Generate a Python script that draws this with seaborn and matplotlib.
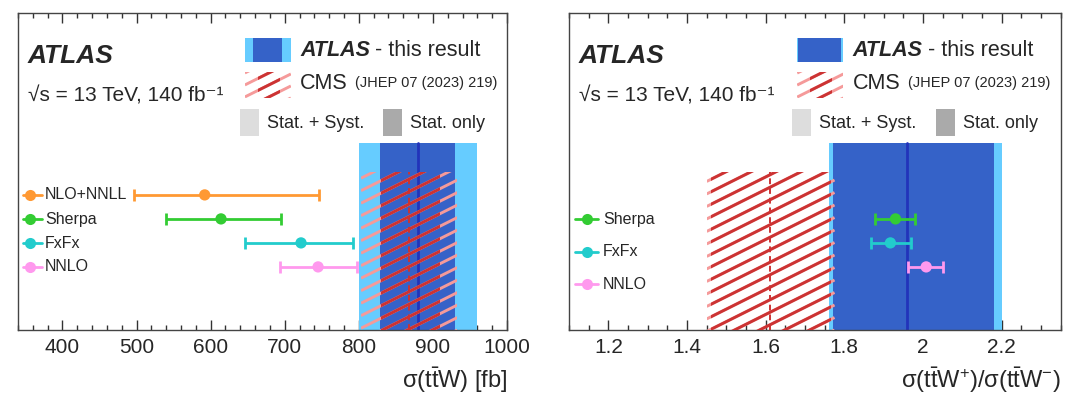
import matplotlib

matplotlib.use("Agg")
import matplotlib.pyplot as plt
import numpy as np
import pandas as pd
import seaborn as sns
from matplotlib.collections import LineCollection
from matplotlib.patches import Rectangle
from matplotlib.ticker import FuncFormatter, MultipleLocator

# left panel: sigma(ttW) [fb]
xsec_models = ["NLO+NNLL", "Sherpa", "FxFx", "NNLO"]
xsec_rows = [4, 3, 2, 1]
xsec_central = [592, 614, 722, 745]
xsec_low = [497, 540, 646, 694]
xsec_high = [746, 695, 792, 797]
xsec_atlas = 880
xsec_atlas_tot = (800, 960)
xsec_atlas_stat = (829, 930)
xsec_cms = 868
xsec_cms_tot = (803, 933)
xsec_cms_stat = (830, 910)

# right panel: sigma(ttW+)/sigma(ttW-)
ratio_models = ["Sherpa", "FxFx", "NNLO"]
ratio_rows = [3, 2, 1]
ratio_central = [1.930, 1.917, 2.008]
ratio_low = [1.878, 1.868, 1.963]
ratio_high = [1.980, 1.970, 2.050]
ratio_atlas = 1.96
ratio_atlas_tot = (1.76, 2.20)
ratio_atlas_stat = (1.77, 2.18)
ratio_cms = 1.61
ratio_cms_tot = (1.45, 1.775)
ratio_cms_stat = (1.46, 1.765)

model_colors = {"NLO+NNLL": "#ff9933", "Sherpa": "#33cc33", "FxFx": "#22cccc", "NNLO": "#ff99ee"}
LIGHT_BLUE = "#66ccff"
DARK_BLUE = "#3562c8"
PINK = "#f59a9a"
DARK_RED = "#cc3333"

sns.set_theme(style="ticks")
plt.rcParams["font.family"] = ["Liberation Sans", "DejaVu Sans"]
plt.rcParams["mathtext.fontset"] = "custom"
plt.rcParams["mathtext.rm"] = "Liberation Sans"
plt.rcParams["mathtext.it"] = "Liberation Sans:italic"
plt.rcParams["mathtext.bf"] = "Liberation Sans:bold"

YLIM = (-1.63, 11.58)
BAND_TOP = 0.59
CMS_TOP = 0.50


def hatch(ax, transform, xs, ys, lo, hi, slo, shi, ybot, ytop, gap_px=12.5, lw=2.1, slope_px=0.5):
    slope = slope_px * xs / ys
    gap = gap_px / ys
    rise = slope * (hi - lo)
    offsets = np.arange(ybot - rise - gap, ytop + gap, gap)
    segs = [[(lo, c), (hi, c + rise)] for c in offsets]
    for color, (a, b) in ((PINK, (lo, hi)), (DARK_RED, (slo, shi))):
        lc = LineCollection(segs, colors=color, linewidths=lw, transform=transform, zorder=3)
        ax.add_collection(lc, autolim=False)
        lc.set_clip_path(Rectangle((a, ybot), b - a, ytop - ybot, transform=transform))


def draw_panel(ax, models, rows, central, low, high, atlas, atlas_tot, atlas_stat,
               cms, cms_tot, cms_stat, xlim, major, minor, xlabel, legend_rows, legend_x):
    fig = ax.figure
    ax.set_xlim(*xlim)
    ax.set_ylim(*YLIM)
    pos = ax.get_position()
    w_px = pos.width * fig.get_figwidth() * fig.dpi
    h_px = pos.height * fig.get_figheight() * fig.dpi

    # ATLAS bands
    ax.axvspan(*atlas_tot, ymin=0, ymax=BAND_TOP, color=LIGHT_BLUE, lw=0, zorder=1)
    ax.axvspan(*atlas_stat, ymin=0, ymax=BAND_TOP, color=DARK_BLUE, lw=0, zorder=1.5)
    ax.axvline(atlas, ymin=0, ymax=BAND_TOP, color="#2233bb", lw=2, zorder=2)

    # CMS hatched band
    xs = w_px / (xlim[1] - xlim[0])
    ys = h_px / (YLIM[1] - YLIM[0])
    cms_top = YLIM[0] + CMS_TOP * (YLIM[1] - YLIM[0])
    hatch(ax, ax.transData, xs, ys, cms_tot[0], cms_tot[1], cms_stat[0], cms_stat[1], YLIM[0], cms_top)
    ax.axvline(cms, ymin=0, ymax=CMS_TOP, color=DARK_RED, lw=1.4, ls=(0, (3, 2)), zorder=3.5)

    # predictions
    frame = pd.DataFrame({"model": models, "row": rows, "central": central, "low": low, "high": high})
    for _, r in frame.iterrows():
        ax.errorbar(r.central, r.row, xerr=[[r.central - r.low], [r.high - r.central]], fmt="none",
                    ecolor=model_colors[r.model], elinewidth=2, capsize=4.3, capthick=2, zorder=4)
    sns.scatterplot(data=frame, x="central", y="row", hue="model", palette=model_colors, s=66,
                    edgecolor="none", legend=False, ax=ax, zorder=5)

    # model legend
    for model, ly in zip(models, legend_rows):
        c = model_colors[model]
        ax.plot([legend_x[0], legend_x[2]], [ly, ly], color=c, lw=2, transform=ax.transAxes, clip_on=False)
        ax.plot([legend_x[1]], [ly], "o", color=c, ms=8, mec="none", transform=ax.transAxes)
        ax.text(legend_x[3], ly, model, fontsize=11.5, va="center", ha="left", transform=ax.transAxes)

    # labels
    ax.text(0.02, 0.842, "ATLAS", fontsize=19, fontweight="bold", style="italic",
            transform=ax.transAxes, va="baseline")
    ax.text(0.02, 0.722, "√s = 13 TeV, 140 fb⁻¹", fontsize=15,
            transform=ax.transAxes, va="baseline")

    # top right legend
    ta = ax.transAxes
    ax.add_patch(Rectangle((0.464, 0.845), 0.094, 0.076, color=LIGHT_BLUE, lw=0, transform=ta))
    inner = (0.464 + 0.094 * (atlas_stat[0] - atlas_tot[0]) / (atlas_tot[1] - atlas_tot[0]),
             0.464 + 0.094 * (atlas_stat[1] - atlas_tot[0]) / (atlas_tot[1] - atlas_tot[0]))
    ax.add_patch(Rectangle((inner[0], 0.845), inner[1] - inner[0], 0.076, color=DARK_BLUE, lw=0,
                           transform=ta))
    ax.text(0.577, 0.883, "ATLAS", fontsize=15.5, fontweight="bold", style="italic",
            transform=ta, va="center")
    ax.text(0.73, 0.883, "- this result", fontsize=15.5, transform=ta, va="center")
    hatch(ax, ta, w_px, h_px, 0.464, 0.558, 0.49, 0.535, 0.732, 0.814, gap_px=12, lw=2.1, slope_px=0.5)
    ax.text(0.577, 0.779, "CMS", fontsize=15.5, transform=ta, va="center")
    ax.text(0.69, 0.779, "(JHEP 07 (2023) 219)", fontsize=10.5, transform=ta, va="center")
    ax.add_patch(Rectangle((0.454, 0.612), 0.039, 0.085, color="#dddddd", lw=0, transform=ta))
    ax.text(0.509, 0.652, "Stat. + Syst.", fontsize=13, transform=ta, va="center")
    ax.add_patch(Rectangle((0.746, 0.612), 0.039, 0.085, color="#aaaaaa", lw=0, transform=ta))
    ax.text(0.802, 0.652, "Stat. only", fontsize=13, transform=ta, va="center")

    # axes styling
    ax.set_yticks([])
    ax.set_ylabel("")
    ax.xaxis.set_major_locator(MultipleLocator(major))
    ax.xaxis.set_minor_locator(MultipleLocator(minor))
    ax.xaxis.set_major_formatter(FuncFormatter(lambda v, _: f"{v:g}"))
    ax.tick_params(axis="x", which="both", direction="in", top=True, bottom=True, labelsize=15,
                   color="#333333", pad=6)
    ax.tick_params(axis="x", which="major", length=7, width=1)
    ax.tick_params(axis="x", which="minor", length=3.6, width=1)
    for sp in ax.spines.values():
        sp.set_visible(True)
        sp.set_color("#444444")
        sp.set_linewidth(1)
    ax.set_xlabel(xlabel, fontsize=17, loc="right", labelpad=6)


fig = plt.figure(figsize=(10.67, 3.94), dpi=100)
ax1 = fig.add_axes([0.01687, 0.1624, 0.4583, 0.8046])
ax2 = fig.add_axes([0.5333, 0.1624, 0.4608, 0.8046])

draw_panel(ax1, xsec_models, xsec_rows, xsec_central, xsec_low, xsec_high, xsec_atlas, xsec_atlas_tot,
           xsec_atlas_stat, xsec_cms, xsec_cms_tot, xsec_cms_stat, (340, 1000), 100, 20,
           r"σ(t$\bar{\mathrm{t}}$W) [fb]",
           [0.426, 0.350, 0.274, 0.199], (0.010, 0.0245, 0.049, 0.055))
draw_panel(ax2, ratio_models, ratio_rows, ratio_central, ratio_low, ratio_high, ratio_atlas, ratio_atlas_tot,
           ratio_atlas_stat, ratio_cms, ratio_cms_tot, ratio_cms_stat, (1.1, 2.35), 0.2, 0.05,
           r"σ(t$\bar{\mathrm{t}}$W$^{+}$)/σ(t$\bar{\mathrm{t}}$W$^{-}$)",
           [0.350, 0.247, 0.145], (0.012, 0.036, 0.059, 0.069))

fig.savefig("out.png", dpi=100, facecolor="white")
